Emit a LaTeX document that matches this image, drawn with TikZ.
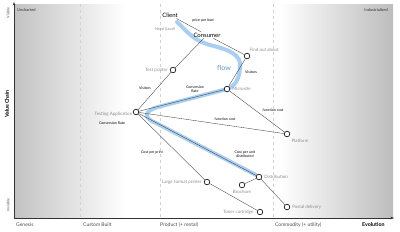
\documentclass[tikz,border=0pt]{standalone}
\usepackage{fontspec}
\setmainfont{Lato}
\usetikzlibrary{arrows.meta,calc,positioning}
\definecolor{flowblue}{HTML}{A8CFF2}
\definecolor{flowtext}{HTML}{5E94DA}
\tikzset{
    comp/.style={circle,draw=black,fill=white,line width=0.6pt,inner sep=0pt,minimum size=5.6pt},
    complabel/.style={text=black!45,font=\fontsize{4.5}{5}\selectfont,inner sep=0.5pt},
    edgelabel/.style={font=\fontsize{3.6}{4.2}\selectfont,align=center,inner sep=0.5pt},
    link/.style={draw=black!75,line width=0.35pt},
    axislabel/.style={font=\fontsize{5}{6}\selectfont,text=black!70,anchor=west,inner sep=0pt},
    stage/.style={draw=black!18,dashed,line width=0.4pt},
    userneed/.style={font=\fontsize{6}{7}\selectfont,inner sep=1pt}
}
\begin{document}
\begin{tikzpicture}[x=1pt,y=-1pt]
          \useasboundingbox (0,0) rectangle (400,231);
          % shaded ends of the map
          \shade[left color=black!24,right color=white] (14,4) rectangle (125,218);
          \shade[left color=white,right color=black!26] (280,4) rectangle (393,218);
          \foreach \x in {80,160,273}{\draw[stage] (\x,4) -- (\x,218);}
          % axes
          \coordinate (origin) at (14,218);
          \coordinate (ytop) at (14,2);
          \coordinate (xend) at (394,218);
          \draw[black!80,line width=0.8pt,-{Stealth[length=3.5pt,width=2.6pt]}] (origin) -- (ytop);
          \draw[black!80,line width=0.8pt,-{Stealth[length=3.5pt,width=2.6pt]}] (origin) -- (xend);
          \node[axislabel] (genesis) at (16,225) {Genesis};
          \node[axislabel] (custom) at (83,225) {Custom Built};
          \node[axislabel] (product) at (160,225) {Product (+ rental)};
          \node[axislabel] (commodity) at (275,225) {Commodity (+ utility)};
          \node[axislabel,text=black,font=\fontsize{5.3}{6}\selectfont\bfseries] (evolution) at (362,225) {Evolution};
          \node[axislabel,anchor=center,rotate=90,font=\fontsize{3.6}{4}\selectfont] (visible) at (8,13) {Visible};
          \node[axislabel,anchor=center,rotate=90,text=black,font=\fontsize{5.3}{6}\selectfont\bfseries] (valuechain) at (7,104) {Value Chain};
          \node[axislabel,anchor=center,rotate=90,font=\fontsize{3.6}{4}\selectfont] (invisible) at (8,205) {Invisible};
          \node[axislabel,font=\fontsize{4}{5}\selectfont,text=black!80] (uncharted) at (17,10) {Uncharted};
          \node[axislabel,anchor=east,font=\fontsize{4}{5}\selectfont,text=black!80] (industrialised) at (388,10) {Industrialised};
          % flow
          \draw[flowblue,line width=4pt,line cap=round]
            (177,22) .. controls (186,30) and (192,40) .. (210,45)
            .. controls (230,50) and (242,55) .. (240,68)
            .. controls (239,80) and (235,86) .. (227,89)
            -- (158,107) .. controls (144,111) and (143,118) .. (156,123) -- (256,175);
          \node[text=flowtext,font=\fontsize{7}{8}\selectfont] (flowlbl) at (224,68) {flow};
          % components
          \node[userneed] (client) at (170,15) {Client};
          \node[userneed] (consumer) at (207,35) {Consumer};
          \node[comp] (findout) at (247,56) {};
          \node[comp] (testprinter) at (173,70) {};
          \node[comp] (microsite) at (227,89) {};
          \node[comp] (testapp) at (136,112) {};
          \node[comp] (platform) at (287,134) {};
          \node[comp] (distribution) at (259,177) {};
          \node[comp] (brochure) at (242,185) {};
          \node[comp] (largeprinter) at (207,182) {};
          \node[comp] (toner) at (260,212) {};
          \node[comp] (postal) at (287,207) {};
          \node[complabel,anchor=south west] (findoutlbl) at ($(findout)+(2,-4)$) {Find out about};
          \node[complabel,left=1.5pt of testprinter] (testprinterlbl) {Test printer};
          \node[complabel,right=1.5pt of microsite] (micrositelbl) {Microsite};
          \node[complabel,anchor=east] (testapplbl) at ($(testapp)+(-3,2.5)$) {Testing Application};
          \node[complabel,anchor=west] (platformlbl) at ($(platform)+(4,7)$) {Platform};
          \node[complabel,right=1.5pt of distribution] (distributionlbl) {Distribution};
          \node[complabel,below=1.5pt of brochure] (brochurelbl) {Brochure};
          \node[complabel,left=1.5pt of largeprinter] (largeprinterlbl) {Large format printer};
          \node[complabel,left=3pt of toner] (tonerlbl) {Toner cartridge};
          \node[complabel,right=1.5pt of postal] (postallbl) {Postal delivery};
          \node[complabel,font=\fontsize{3.8}{4.5}\selectfont] (needlbl) at (165,29) {Need (Lead)};
          % links
          \draw[link] (client) -- (consumer);
          \draw[link] (consumer) -- (findout);
          \draw[link] (consumer) -- (testprinter);
          \draw[link] (testprinter) -- (testapp);
          \draw[link] (findout) -- (microsite);
          \draw[link] (testapp) -- (microsite);
          \draw[link] (testapp) -- (platform);
          \draw[link] (microsite) -- (platform);
          \draw[link] (testapp) -- (distribution);
          \draw[link] (testapp) -- (largeprinter);
          \draw[link] (largeprinter) -- (toner);
          \draw[link] (distribution) -- (brochure);
          \draw[link] (distribution) -- (postal);
          % link labels
          \node[edgelabel] (pricelbl) at (203,20) {price per lead};
          \node[edgelabel] (visitorsa) at (145,88) {Visitors};
          \node[edgelabel] (visitorsb) at (251,72) {Visitors};
          \node[edgelabel] (convratea) at (195,89) {Conversion\\Rate};
          \node[edgelabel] (convrateb) at (112,123) {Conversion Rate};
          \node[edgelabel] (funcosta) at (225,119) {function cost};
          \node[edgelabel] (funcostb) at (273,110) {function cost};
          \node[edgelabel] (unitcost) at (245,154) {Cost per unit\\distributed};
          \node[edgelabel] (printcost) at (152,152) {Cost per print};
        \end{tikzpicture}
\end{document}
